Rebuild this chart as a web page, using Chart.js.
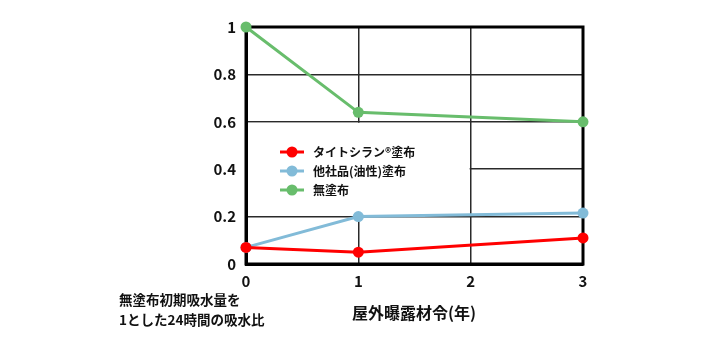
<!DOCTYPE html>
<html>
<head>
<meta charset="utf-8">
<script src="https://cdn.jsdelivr.net/npm/chart.js@4/dist/chart.umd.min.js"></script>
<style>
  html, body { margin: 0; padding: 0; background: #fff; }
  #wrap { width: 710px; height: 337px; }
</style>
</head>
<body>
<div id="wrap"><canvas id="chart"></canvas></div>
<script>
const years = ['0', '1', '2', '3'];
const titesilan = [0.07, 0.05, null, 0.11];
const otherOil = [0.07, 0.2, null, 0.215];
const uncoated = [1.0, 0.64, null, 0.6];
const seriesNames = ['タイトシラン®塗布', '他社品(油性)塗布', '無塗布'];
const seriesColors = ['#ff0000', '#82bbd8', '#68bd6c'];

const FONT = "'Noto Sans CJK JP', 'Noto Sans', sans-serif";

// white panel behind the legend, thick frame round the plot
const framePlugin = {
    id: 'frame',
    beforeDatasetsDraw(chart) {
        const { ctx, chartArea: a, scales: { x, y } } = chart;
        ctx.save();
        ctx.fillStyle = '#fff';
        const x0 = x.getPixelForValue(0) + 2, x1 = x.getPixelForValue(2) - 1;
        const y0 = y.getPixelForValue(0.6) + 1, y1 = y.getPixelForValue(0.2) - 1;
        ctx.fillRect(x0, y0, x1 - x0, y1 - y0);
        ctx.strokeStyle = '#000';
        ctx.lineWidth = 3;
        ctx.strokeRect(a.left, a.top, a.right - a.left, a.bottom - a.top);
        ctx.restore();
    },
    afterDraw(chart) {
        const { ctx } = chart;
        ctx.save();
        // legend
        chart.data.datasets.forEach((ds, i) => {
            const cy = 152 + i * 19;
            ctx.strokeStyle = ds.borderColor;
            ctx.lineWidth = 3;
            ctx.beginPath();
            ctx.moveTo(280, cy);
            ctx.lineTo(304, cy);
            ctx.stroke();
            ctx.fillStyle = ds.borderColor;
            ctx.beginPath();
            ctx.arc(292, cy, 5.5, 0, Math.PI * 2);
            ctx.fill();
            ctx.fillStyle = '#111';
            ctx.font = 'bold 12px ' + FONT;
            ctx.textBaseline = 'middle';
            ctx.textAlign = 'left';
            ctx.fillText(ds.label, 313, cy);
        });
        // axis titles
        ctx.fillStyle = '#111';
        ctx.font = 'bold 16px ' + FONT;
        ctx.textAlign = 'center';
        ctx.textBaseline = 'middle';
        ctx.fillText('屋外曝露材令(年)', 414, 313);
        ctx.font = 'bold 13.5px ' + FONT;
        ctx.textAlign = 'left';
        ctx.fillText('無塗布初期吸水量を', 119, 300);
        ctx.fillText('1とした24時間の吸水比', 119, 320);
        ctx.restore();
    }
};

const makeSet = (label, data, color) => ({
    label: label,
    data: data,
    borderColor: color,
    backgroundColor: color,
    borderWidth: 3,
    pointRadius: 5.5,
    pointHoverRadius: 5.5,
    pointBorderWidth: 0,
    spanGaps: true,
    clip: false,
    tension: 0
});

new Chart(document.getElementById('chart').getContext('2d'), {
    type: 'line',
    data: {
        labels: years,
        datasets: [
            makeSet(seriesNames[0], titesilan, seriesColors[0]),
            makeSet(seriesNames[1], otherOil, seriesColors[1]),
            makeSet(seriesNames[2], uncoated, seriesColors[2])
        ]
    },
    options: {
        responsive: true,
        maintainAspectRatio: false,
        animation: false,
        layout: { padding: { left: 196, right: 127, top: 27, bottom: 0 } },
        plugins: {
            legend: { display: false },
            tooltip: { enabled: false }
        },
        scales: {
            x: {
                offset: false,
                grid: { color: '#2a2a2a', lineWidth: 1.5, drawTicks: false },
                border: { color: '#000', width: 3 },
                ticks: {
                    color: '#111',
                    padding: 8,
                    font: { family: FONT, size: 15, weight: 'bold' }
                },
                afterFit(scale) { scale.height = 73; }
            },
            y: {
                min: 0,
                max: 1,
                ticks: {
                    stepSize: 0.2,
                    color: '#111',
                    padding: 10,
                    font: { family: FONT, size: 15, weight: 'bold' },
                    callback: (v) => String(Math.round(v * 10) / 10)
                },
                grid: { color: '#2a2a2a', lineWidth: 1.5, drawTicks: false },
                border: { color: '#000', width: 3 },
                afterFit(scale) { scale.width = 50; }
            }
        }
    },
    plugins: [framePlugin]
});
</script>
</body>
</html>
